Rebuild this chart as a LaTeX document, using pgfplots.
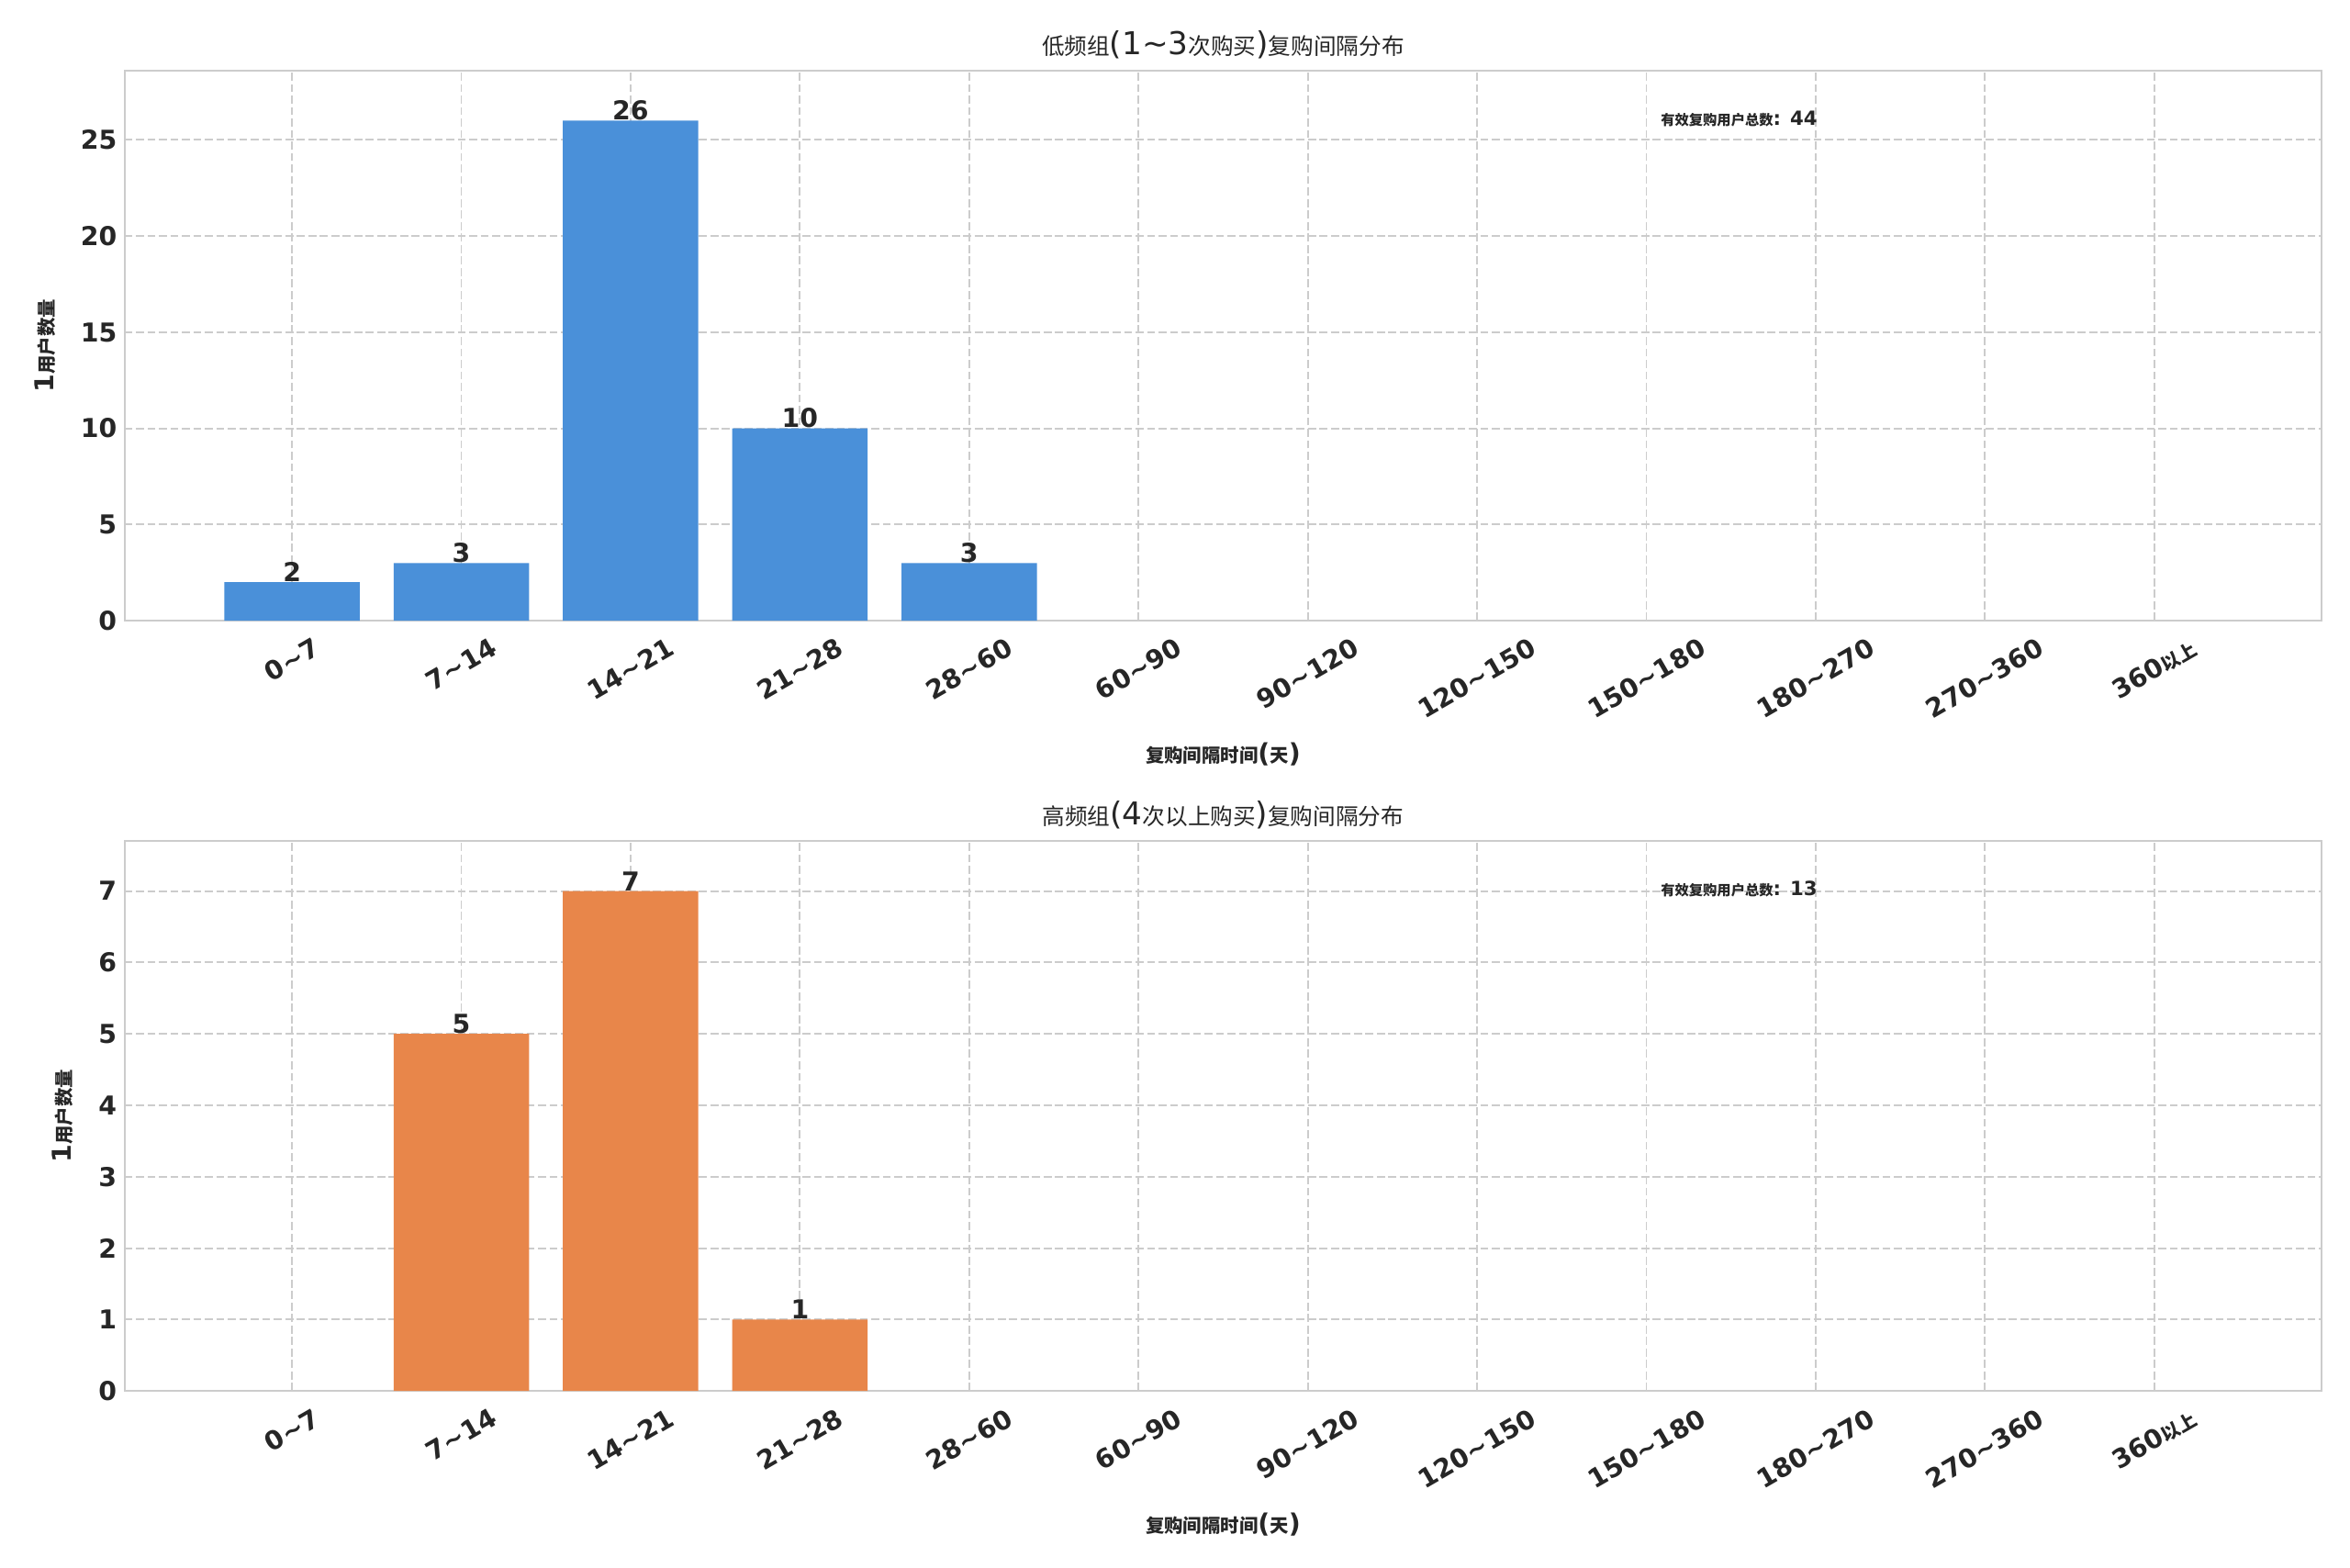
\documentclass[border=0pt]{standalone}
\usepackage{pgfplots}
\pgfplotsset{compat=1.18}
\usepackage{fontspec}
\setmainfont{DejaVu Sans}
\newfontfamily\cjk[Scale=0.72]{Noto Sans CJK SC}
\definecolor{barblue}{HTML}{4A90D9}
\definecolor{barorange}{HTML}{E8864A}
\definecolor{gridc}{HTML}{CCCCCC}
\definecolor{txt}{HTML}{262626}
\newcommand\tl[1]{\rotatebox{30}{#1}}
\newcommand\tld{\textasciitilde}
\pgfplotsset{
  mystyle/.style={
    scale only axis, width=1013.6pt, height=253.7pt, anchor=south west,
    xmin=-0.99, xmax=11.99, ymin=0,
    axis line style={draw=gridc, line width=0.8pt},
    major tick length=0pt,
    grid=major, grid style={gridc, line width=0.8pt, dash pattern=on 3.7pt off 1.6pt},
    xtick={0,...,11},
    xticklabels={\tl{0\tld7},\tl{7\tld14},\tl{14\tld21},\tl{21\tld28},\tl{28\tld60},\tl{60\tld90},\tl{90\tld120},\tl{120\tld150},\tl{150\tld180},\tl{180\tld270},\tl{270\tld360},\tl{360{\cjk 以上}}},
    xticklabel style={font=\fontsize{12}{14}\selectfont\bfseries, text=txt, anchor=north, yshift=-4pt},
    yticklabel style={font=\fontsize{12}{14}\selectfont\bfseries, text=txt},
    /pgf/number format/assume math mode=true,
    ybar, bar width=0.8,
    nodes near coords,
    nodes near coords style={font=\fontsize{12}{14}\selectfont\bfseries, text=txt, anchor=south, inner sep=0pt},
    every axis title/.style={at={(axis description cs:0.5,1)}, anchor=center, yshift=12pt, font=\fontsize{14.5}{16}\selectfont, text=txt},
    every axis x label/.style={at={(axis description cs:0.5,0)}, anchor=center, yshift=-61.5pt, font=\fontsize{12}{14}\selectfont\bfseries, text=txt},
    every axis y label/.style={at={(axis description cs:0,0.5)}, anchor=center, rotate=90, font=\fontsize{12}{14}\selectfont\bfseries, text=txt},
    xlabel={{\cjk 复购间隔时间}({\cjk 天})},
    ylabel={1{\cjk 用户数量}},
  }
}
\begin{document}
\begin{tikzpicture}
\useasboundingbox (0,0) rectangle (1084pt,722.9pt);
\begin{axis}[mystyle, at={(57.4pt,436.6pt)}, ymax=28.6, ytick={0,5,...,25},
  title={{\cjk 低频组}(1\tld3{\cjk 次购买}){\cjk 复购间隔分布}},
  y label style={yshift=36.7pt}]
\addplot[fill=barblue, draw=none] coordinates {(0,2) (1,3) (2,26) (3,10) (4,3)};
\node[anchor=west, inner sep=0pt, font=\fontsize{9}{10}\selectfont\bfseries, text=txt] at (rel axis cs:0.699,0.913) {{\cjk 有效复购用户总数}: 44};
\end{axis}
\begin{axis}[mystyle, at={(57.4pt,81.3pt)}, ymax=7.7, ytick={0,...,7},
  title={{\cjk 高频组}(4{\cjk 次以上购买}){\cjk 复购间隔分布}},
  y label style={yshift=28.3pt}]
\addplot[fill=barorange, draw=none] coordinates {(1,5) (2,7) (3,1)};
\node[anchor=west, inner sep=0pt, font=\fontsize{9}{10}\selectfont\bfseries, text=txt] at (rel axis cs:0.699,0.913) {{\cjk 有效复购用户总数}: 13};
\end{axis}
\end{tikzpicture}
\end{document}
